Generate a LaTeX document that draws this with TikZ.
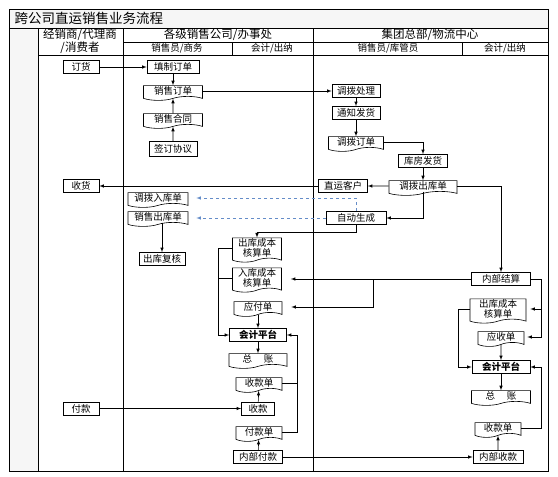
\documentclass[tikz,border=0pt]{standalone}
\usepackage{fontspec}
\setmainfont{Noto Sans CJK SC}
\usetikzlibrary{shapes.symbols}
\definecolor{dashblue}{RGB}{100,140,200}
\definecolor{lanefill}{RGB}{246,246,246}

\begin{document}
\begin{tikzpicture}[x=1pt, y=-1pt, >=latex, line width=0.6pt,
    font=\fontsize{9.5}{9.5}\selectfont,
    box/.style={draw, minimum height=13pt, inner sep=1pt},
    doc/.style={draw, tape, tape bend top=none, tape bend bottom=in and out,
      tape bend height=4pt, minimum height=11pt, inner sep=1pt},
    hd/.style={font=\fontsize{11.5}{13}\selectfont},
    link/.style={->, dashed, draw=dashblue, shorten >=8pt}]
  \useasboundingbox (0,0) rectangle (558,477);
  % lanes
  \fill[lanefill] (9,9) rectangle (548,28);
  \fill[lanefill] (9,28) rectangle (38,471);
  \draw[line width=1pt] (9,9) rectangle (548,471);
  \draw (9,28) -- (548,28);
  \draw (123,42) -- (548,42);
  \draw (38,55) -- (548,55);
  \foreach \x in {38,123,313} \draw (\x,28) -- (\x,471);
  \foreach \x in {232,462} \draw (\x,42) -- (\x,55);

  \node[anchor=west, font=\fontsize{13.5}{14}\selectfont] (title) at (11,18.5) {跨公司直运销售业务流程};
  \node[hd, align=center] (dealer) at (80,41.5) {经销商/代理商\\/消费者};
  \node[hd] (branch) at (218,35) {各级销售公司/办事处};
  \node[hd] (hq) at (430,35) {集团总部/物流中心};
  \node (b1) at (177,48.5) {销售员/商务};
  \node (b2) at (272,48.5) {会计/出纳};
  \node (h1) at (388,48.5) {销售员/库管员};
  \node (h2) at (505,48.5) {会计/出纳};

  % dealer
  \node[box, minimum width=36pt] (dh) at (81,67) {订货};
  \node[box, minimum width=36pt] (sh) at (81,186) {收货};
  \node[box, minimum width=36pt] (fk) at (81,408.5) {付款};

  % branch sales
  \node[box, minimum width=52pt] (tz) at (173,67) {填制订单};
  \node[doc, minimum width=59pt] (xsdd) at (173,91) {销售订单};
  \node[doc, minimum width=59pt] (xsht) at (173,119) {销售合同};
  \node[box, minimum width=48pt, minimum height=15pt] (qd) at (173,149) {签订协议};
  \node[doc, minimum width=60pt] (dbrk) at (158,198) {调拨入库单};
  \node[doc, minimum width=60pt] (xsck) at (158,217) {销售出库单};
  \node[box, minimum width=46pt] (ckfh) at (162,259) {出库复核};

  % branch accounting
  \node[doc, minimum width=49pt, align=center] (ckcb1) at (257,248) {出库成本\\核算单};
  \node[doc, minimum width=49pt, align=center] (rkcb) at (257,278) {入库成本\\核算单};
  \node[doc, minimum width=48pt] (yfd) at (258,307) {应付单};
  \node[box, minimum width=57pt, font=\fontsize{9.5}{9.5}\selectfont\bfseries] (kj1) at (258,335) {会计平台};
  \node[doc, minimum width=58pt] (zz1) at (258,359) {总\quad\ 账};
  \node[doc, minimum width=46pt] (skd1) at (259,383) {收款单};
  \node[box, minimum width=33pt] (sk) at (258,408.5) {收款};
  \node[doc, minimum width=46pt] (fkd) at (259,432) {付款单};
  \node[box, minimum width=49pt] (nbfk) at (258,457) {内部付款};

  % hq sales / warehouse
  \node[box, minimum width=48pt] (dbcl) at (356,91) {调拨处理};
  \node[box, minimum width=48pt] (tzfh) at (356,113) {通知发货};
  \node[doc, minimum width=55pt, minimum height=13pt] (dbdd) at (356,142) {调拨订单};
  \node[box, minimum width=49pt] (kffh) at (423,161) {库房发货};
  \node[doc, minimum width=68pt] (dbck) at (423,186) {调拨出库单};
  \node[box, minimum width=49pt] (zykh) at (343,186) {直运客户};
  \node[box, minimum width=60pt] (zdsc) at (356,218) {自动生成};

  % hq accounting
  \node[box, minimum width=59pt] (nbjs) at (501,279) {内部结算};
  \node[doc, minimum width=56pt, align=center] (ckcb2) at (498,309) {出库成本\\核算单};
  \node[doc, minimum width=46pt] (ysd) at (501,337) {应收单};
  \node[box, minimum width=58pt, font=\fontsize{9.5}{9.5}\selectfont\bfseries] (kj2) at (501,367) {会计平台};
  \node[doc, minimum width=59pt] (zz2) at (501,396) {总\quad\ 账};
  \node[doc, minimum width=46pt] (skd2) at (498,428) {收款单};
  \node[box, minimum width=50pt] (nbsk) at (498,457) {内部收款};

  \coordinate (jb) at (373,279);

  % order flow
  \draw[->] (dh) -- (tz);
  \draw[->] (tz) -- (xsdd);
  \draw[->] (qd) -- (xsht);
  \draw[->] (xsht) -- (xsdd);
  \draw[->] (xsdd.east) -- (xsdd.east -| dbcl.west);
  \draw[->] (dbcl) -- (tzfh);
  \draw[->] (tzfh) -- (dbdd);
  \draw[->] (dbdd.east) -| (kffh.north);
  \draw[->] (kffh) -- (dbck);
  \draw[->] (dbck) -- (zykh);
  \draw[->] (zykh) -- (sh);
  \draw[->] (dbck.south) |- (zdsc.east);
  \draw[->] (dbck.east) -| (nbjs.north);
  \draw[link] (zdsc.north) |- (dbrk.east);
  \draw[link] (zdsc.west) -- (zdsc.west -| xsck.east);
  \draw[->] (ckfh.north |- xsck.south) -- (ckfh);

  % settlement
  \draw[->] (zdsc.south) -- ++(0,7) -| (ckcb1.north);
  \draw[->] (ckcb1.west) -- ++(-14,0) |- (kj1.west);
  \draw (rkcb.west) -- ++(-14,0);
  \draw[->, shorten >=9pt] (nbjs.west) -- (nbjs.west -| rkcb.east);
  \draw[->, shorten >=9pt] (jb) |- (yfd.east);
  \draw[->, shorten >=4pt] (nbjs.east) -- ++(10,0) |- (ckcb2.east);
  \draw[->, shorten >=3pt] (nbjs.east) -- ++(10,0) |- (ysd.east);
  \draw[->] (yfd) -- (kj1);
  \draw[->] (kj1) -- (zz1);
  \draw[->] (ysd) -- (kj2);
  \draw[->] (kj2) -- (zz2);
  \draw[->] (ckcb2.west) -- ++(-11,0) |- (kj2.west);

  % payment
  \draw[->] (fk) -- (sk);
  \draw[->] (sk) -- (skd1);
  \draw[->] (nbfk) -- (fkd);
  \draw[->] (nbfk) -- (nbsk);
  \draw[->] (nbsk) -- (skd2);
  \draw[->] (skd1.east) -- ++(15,0) |- (kj1.east);
  \draw (fkd.east) -- ++(15,0) |- (skd1.east);
  \draw[->] (skd2.east) -- ++(20,0) |- (kj2.east);
\end{tikzpicture}
\end{document}
